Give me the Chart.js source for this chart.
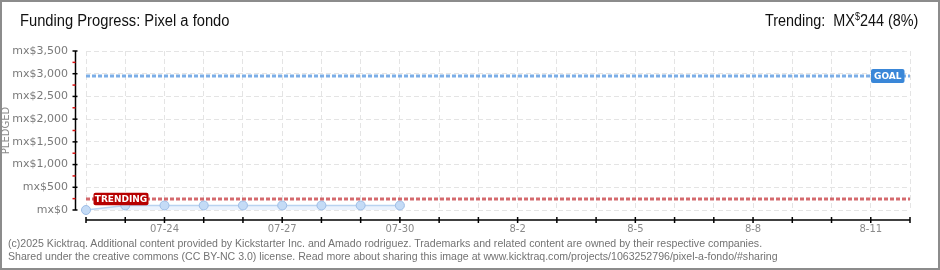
<!DOCTYPE html>
<html>
<head>
<meta charset="utf-8">
<script src="https://cdn.jsdelivr.net/npm/chart.js@4/dist/chart.umd.min.js"></script>
<style>
  html, body { margin: 0; padding: 0; background: #fff; }
  #wrap { position: relative; width: 940px; height: 270px; overflow: hidden; }
  #c { position: absolute; left: 0; top: 0; }
  #frame { position: absolute; left: 0; top: 0; width: 940px; height: 270px; box-sizing: border-box; border: 2px solid #8c8c8c; pointer-events: none; }
  .t { position: absolute; white-space: nowrap; font-family: "Liberation Sans", "DejaVu Sans", sans-serif; color: #111; }
  #title { left: 20px; top: 12px; font-size: 16px; transform: scaleX(0.92); transform-origin: 0 0; }
  #trend { right: 22px; top: 12px; font-size: 16px; transform: scaleX(0.9); transform-origin: 100% 0; }
  #trend sup { font-size: 10px; vertical-align: 6px; line-height: 0; }
  .foot { left: 8px; font-size: 11px; color: #737373; transform: scaleX(0.962); transform-origin: 0 0; }
  #f1 { top: 237px; }
  #f2 { top: 250px; }
</style>
</head>
<body>
<div id="wrap">
  <canvas id="c" width="940" height="270"></canvas>
  <div class="t" id="title">Funding Progress: Pixel a fondo</div>
  <div class="t" id="trend">Trending:&nbsp; MX<sup>$</sup>244 (8%)</div>
  <div class="t foot" id="f1">(c)2025 Kicktraq. Additional content provided by Kickstarter Inc. and Amado rodriguez. Trademarks and related content are owned by their respective companies.</div>
  <div class="t foot" id="f2">Shared under the creative commons (CC BY-NC 3.0) license. Read more about sharing this image at www.kicktraq.com/projects/1063252796/pixel-a-fondo/#sharing</div>
  <div id="frame"></div>
</div>
<script>
// ---- data ----
const days = ['07-22','07-23','07-24','07-25','07-26','07-27','07-28','07-29','07-30','07-31',
              '8-1','8-2','8-3','8-4','8-5','8-6','8-7','8-8','8-9','8-10','8-11','8-12'];
const labeledDays = ['07-24','07-27','07-30','8-2','8-5','8-8','8-11'];
const pledged = [0, 100, 100, 100, 100, 100, 100, 100, 100];
const goal = 2950;
const trending = 244;
const yTicks = [0, 500, 1000, 1500, 2000, 2500, 3000, 3500];

const axesPlugin = {
  id: 'axesPlugin',
  afterDraw(chart) {
    const ctx = chart.ctx, a = chart.chartArea;
    const xs = chart.scales.x, ys = chart.scales.y;
    ctx.save();
    function refLine(v, color) {
      const y = ys.getPixelForValue(v);
      ctx.strokeStyle = color; ctx.lineWidth = 3; ctx.setLineDash([4, 2]);
      ctx.beginPath(); ctx.moveTo(a.left, y); ctx.lineTo(a.right, y); ctx.stroke();
      ctx.setLineDash([]);
      return y;
    }
    const gy = refLine(goal, 'rgba(110,165,228,0.9)');
    const ty = refLine(trending, 'rgba(205,80,85,0.85)');
    function tag(text, x1, x2, y, h, color) {
      ctx.fillStyle = color;
      ctx.beginPath();
      ctx.roundRect(x1, y - h / 2, x2 - x1, h, 2);
      ctx.fill();
      ctx.fillStyle = '#fff';
      ctx.font = 'bold 9px "DejaVu Sans", sans-serif';
      ctx.textAlign = 'center'; ctx.textBaseline = 'middle';
      ctx.fillText(text, (x1 + x2) / 2, y + 0.5);
    }
    tag('TRENDING', a.left + 7.5, a.left + 62.5, ty, 12.5, '#b70000');
    tag('GOAL', a.right - 39, a.right - 5.5, gy, 14, '#3a87d8');
    const ax = a.left - 10.5;
    ctx.strokeStyle = '#000'; ctx.lineWidth = 1.5;
    ctx.beginPath(); ctx.moveTo(ax, ys.getPixelForValue(yTicks[yTicks.length - 1])); ctx.lineTo(ax, ys.getPixelForValue(0)); ctx.stroke();
    yTicks.forEach(v => {
      const y = ys.getPixelForValue(v);
      ctx.beginPath(); ctx.moveTo(ax - 3, y); ctx.lineTo(ax + 2, y); ctx.stroke();
      if (v < yTicks[yTicks.length - 1]) {
        const ym = ys.getPixelForValue(v + 250);
        ctx.strokeStyle = '#e01010';
        ctx.beginPath(); ctx.moveTo(ax - 3, ym); ctx.lineTo(ax, ym); ctx.stroke();
        ctx.strokeStyle = '#000';
      }
    });
    const by = a.bottom + 10;
    ctx.beginPath(); ctx.moveTo(a.left, by); ctx.lineTo(a.right, by); ctx.stroke();
    days.forEach((d, i) => {
      const x = xs.getPixelForValue(i);
      ctx.beginPath(); ctx.moveTo(x, by - 3); ctx.lineTo(x, by + 3); ctx.stroke();
    });
    ctx.restore();
  }
};

new Chart(document.getElementById('c'), {
  type: 'line',
  data: {
    labels: days,
    datasets: [{
      label: 'Pledged',
      data: pledged,
      borderColor: '#b9d3f0',
      borderWidth: 1.5,
      backgroundColor: 'rgba(200,222,248,0.35)',
      fill: 'origin',
      tension: 0,
      pointRadius: 4.5,
      pointBackgroundColor: '#c4dbf6',
      pointBorderColor: '#9dbde6',
      pointBorderWidth: 1,
      clip: false
    }]
  },
  options: {
    responsive: false,
    animation: false,
    events: [],
    layout: { padding: { left: 0, right: 30, top: 51, bottom: 0 } },
    plugins: { legend: { display: false }, tooltip: { enabled: false } },
    scales: {
      x: {
        type: 'category',
        offset: false,
        grid: { color: '#e4e4e4', lineWidth: 1, drawTicks: false },
        border: { display: false, dash: [5, 3] },
        ticks: {
          autoSkip: false, maxRotation: 0, padding: 13,
          color: '#8a8a8a', font: { family: '"DejaVu Sans", sans-serif', size: 10 },
          callback: function(v, i) { const l = days[i]; return labeledDays.includes(l) ? l : ''; }
        },
        afterFit(s) { s.height = 60; }
      },
      y: {
        min: 0, max: 3500,
        grid: { color: '#e4e4e4', lineWidth: 1, drawTicks: false },
        border: { display: false, dash: [5, 3] },
        ticks: {
          stepSize: 500, padding: 18, color: '#7a7a7a',
          font: { family: '"DejaVu Sans", sans-serif', size: 11 },
          callback: v => 'mx$' + v.toLocaleString('en-US')
        },
        title: { display: true, text: 'PLEDGED', color: '#8a8a8a', padding: { top: 0, bottom: 0 },
                 font: { family: '"DejaVu Sans", sans-serif', size: 10 } },
        afterFit(s) { s.width = 86; }
      }
    }
  },
  plugins: [axesPlugin]
});
</script>
</body>
</html>
